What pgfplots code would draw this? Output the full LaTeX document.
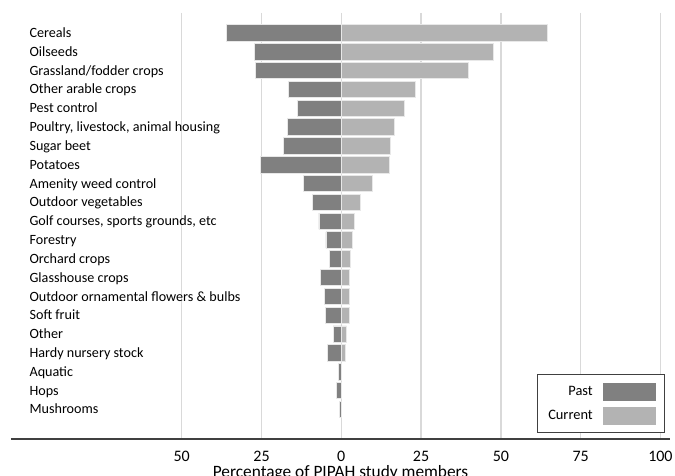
\documentclass[border=0pt]{standalone}
\usepackage{pgfplots}
\pgfplotsset{compat=1.18}
\usepackage{fontspec}
\setmainfont{Carlito}
\usetikzlibrary{calc}
\definecolor{pastc}{HTML}{808080}
\definecolor{curc}{HTML}{B3B3B3}
\definecolor{gridc}{HTML}{D9D9D9}
\definecolor{axc}{HTML}{404040}
\begin{document}
\begin{tikzpicture}
\begin{axis}[
  name=ax,
  scale only axis,
  width=494.25pt, height=319.5pt,
  xmin=-103.5, xmax=103,
  ymin=-1.06, ymax=21.57,
  y dir=reverse,
  axis x line=bottom, axis y line=left,
  axis line style={-},
  x axis line style={draw=axc, line width=1pt},
  y axis line style={draw=none},
  xtick={-50,-25,0,25,50,75,100},
  xticklabels={50,25,0,25,50,75,100},
  xtick style={draw=none}, ytick style={draw=none},
  xmajorgrids, grid style={draw=gridc, line width=1.1pt},
  /pgf/number format/assume math mode=true,
  xticklabel style={font=\fontsize{12}{14}\selectfont, anchor=base, yshift=-15pt,
    inner ysep=0pt, text depth=0pt},
  ytick={0,...,20},
  yticklabels={Cereals, Oilseeds, Grassland/fodder crops, Other arable crops,
    Pest control, {Poultry, livestock, animal housing}, Sugar beet, Potatoes,
    Amenity weed control, Outdoor vegetables, {Golf courses, sports grounds, etc},
    Forestry, Orchard crops, Glasshouse crops, Outdoor ornamental flowers \& bulbs,
    Soft fruit, Other, Hardy nursery stock, Aquatic, Hops, Mushrooms},
  yticklabel style={font=\fontsize{10.6}{13}\selectfont, anchor=base west,
    inner xsep=0pt, xshift=18pt, yshift=-3.4pt},
  xlabel={Percentage of PIPAH study members},
  xlabel style={font=\fontsize{13}{15}\selectfont, at={(axis description cs:0.5,0)},
    anchor=base, yshift=-28.6pt, inner ysep=0pt},
  xbar, bar width=0.87, bar shift=0pt,
  legend cell align=right,
  legend plot pos=right,
  legend style={at={(0.992,0.013)}, anchor=south east, draw=axc, line width=0.75pt,
    font=\fontsize{10.8}{13}\selectfont, inner xsep=6pt, inner ysep=6pt, row sep=5pt,
    /tikz/every odd column/.append style={column sep=6pt}},
]
\addplot[fill=pastc, draw=gridc!60, line width=0.6pt,
  legend image code/.code={\fill[pastc] (0pt,-6.4pt) rectangle (39pt,6.4pt);}]
  coordinates {(-36.1,0) (-27.3,1) (-27.0,2) (-16.5,3) (-13.6,4) (-17.0,5)
    (-18.0,6) (-25.2,7) (-12.0,8) (-9.1,9) (-7.0,10) (-4.8,11) (-3.8,12)
    (-6.4,13) (-5.2,14) (-5.0,15) (-2.6,16) (-4.2,17) (-1.0,18) (-1.5,19) (-0.5,20)};
\addplot[fill=curc, draw=gridc!60, line width=0.6pt,
  legend image code/.code={\fill[curc] (0pt,-6.4pt) rectangle (39pt,6.4pt);}]
  coordinates {(64.7,0) (47.6,1) (39.9,2) (23.3,3) (19.9,4) (16.7,5)
    (15.5,6) (15.1,7) (9.6,8) (6.1,9) (4.0,10) (3.4,11) (2.8,12)
    (2.6,13) (2.6,14) (2.5,15) (1.7,16) (1.4,17) (0,18) (0,19) (0,20)};
\legend{Past, Current}
\end{axis}
\pgfresetboundingbox
\useasboundingbox ($(ax.south west)+(-8.25pt,-27.75pt)$) rectangle ($(ax.north east)+(3.75pt,9.75pt)$);
\end{tikzpicture}
\end{document}
